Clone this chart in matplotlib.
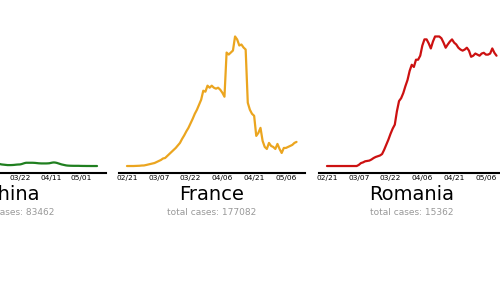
import matplotlib
matplotlib.use("Agg")
import matplotlib.pyplot as plt
import pandas as pd

# ---------------- data ----------------
countries = ["China", "France", "Romania"]
totals = [83462, 177082, 15362]
colors = ["#1f7f1f", "#eba51f", "#cc1111"]
start_dates = ["2020-01-22", "2020-02-21", "2020-02-21"]

china_values = [
    90, 130, 200, 300, 420, 560, 780, 1000, 1250, 1500,
    1780, 2030, 2300, 2550, 2780, 2960, 3050, 3100, 3080, 3020,
    2900, 3500, 3900, 3850, 3700, 3600, 3450, 3300, 2300, 1900,
    1500, 1200, 950, 700, 550, 480, 420, 380, 340,
    300, 260, 220, 180, 150, 120, 100, 80,
    60, 50, 45, 40, 35, 30, 30, 30, 32, 35,
    40, 45, 48, 50, 60, 75, 90, 100, 100, 100,
    100, 100, 98, 95, 90, 85, 82, 80, 80, 80,
    80, 82, 85, 95, 105, 110, 105, 95, 80, 65,
    50, 40, 30, 20, 15, 12, 10, 9, 8, 8,
    8, 8, 6, 5, 4, 4, 3, 3, 3, 2,
    2, 2, 2, 2,
]

france_values = [
    0, 0, 0, 0, 5, 10, 15, 27, 30, 54,
    81, 108, 135, 162, 216, 270, 324, 405, 432, 540,
    648, 756, 864, 972, 1107, 1242, 1458, 1647, 1863, 2052,
    2295, 2538, 2808, 3024, 3294, 3564, 4050, 3996, 4320, 4212,
    4320, 4212, 4158, 4212, 4104, 3942, 3726, 6102, 5994, 6102,
    6210, 6966, 6804, 6480, 6534, 6372, 6264, 3402, 3024, 2808,
    2700, 1620, 1782, 2052, 1350, 1026, 918, 1242, 1080, 1026,
    918, 1188, 918, 702, 972, 972, 1026, 1080, 1134, 1242,
    1296,
]

romania_values = [
    0, 0, 0, 0, 0, 0, 0, 0, 0, 0,
    0, 0, 0, 0, 0, 3, 8, 10, 13, 14,
    15, 18, 22, 25, 27, 29, 33, 45, 59, 73,
    89, 103, 114, 151, 179, 187, 201, 220, 237, 262,
    279, 273, 293, 293, 304, 332, 349, 349, 338, 324,
    343, 357, 357, 357, 352, 340, 326, 335, 343, 349,
    340, 335, 326, 321, 318, 321, 326, 318, 301, 304,
    310, 307, 304, 310, 312, 307, 307, 310, 324, 312,
    304,
]

series = [china_values, france_values, romania_values]
tick_labels = [
    ["01/22", "02/11", "03/02", "03/22", "04/11", "05/01"],
    ["02/21", "03/07", "03/22", "04/06", "04/21", "05/06"],
    ["02/21", "03/07", "03/22", "04/06", "04/21", "05/06"],
]

# ---------------- figure ----------------
W, H = 500, 281
fig = plt.figure(figsize=(W / 100, H / 100), dpi=100)

lefts_px = [-81, 118.5, 318.5]
width_px = 186.5
bottom_px = 108.5
height_px = 142.5

for i, name in enumerate(countries):
    ax = fig.add_axes([lefts_px[i] / W, bottom_px / H, width_px / W, height_px / H])
    dates = pd.date_range(start_dates[i], periods=len(series[i]), freq="D")
    ax.plot(dates, series[i], color=colors[i], lw=1.6, solid_capstyle="round")
    for s in ["left", "top", "right"]:
        ax.spines[s].set_visible(False)
    ax.spines["bottom"].set_linewidth(1.5)
    ax.spines["bottom"].set_color("black")
    ax.set_yticks([])
    tick_pos = [pd.Timestamp("2020/" + t) for t in tick_labels[i]]
    ax.set_xticks(tick_pos)
    ax.set_xticklabels(tick_labels[i])
    ax.tick_params(axis="x", length=0, pad=1.5, labelsize=5.3, colors="black")
    ax.set_facecolor("none")
    ax.text(0.5, -0.193, name, transform=ax.transAxes, ha="center",
            va="baseline", fontsize=14, color="black")
    ax.text(0.5, -0.298, f"total cases: {totals[i]}", transform=ax.transAxes,
            ha="center", va="baseline", fontsize=6.5, color="#999999")

fig.savefig("out.png", dpi=100, facecolor="white")
